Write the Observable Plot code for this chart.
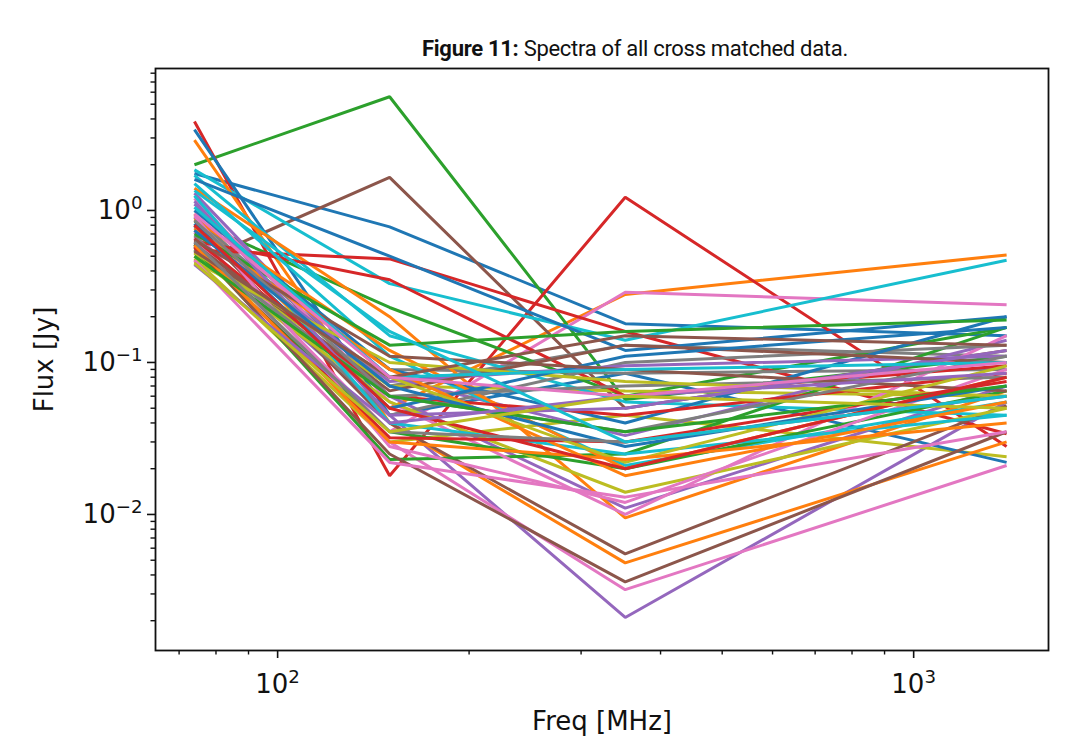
<!DOCTYPE html>
<html><head><meta charset="utf-8">
<script src="https://cdn.jsdelivr.net/npm/d3@7"></script>
<script src="https://cdn.jsdelivr.net/npm/@observablehq/plot@0.6"></script>
<style>
body{margin:0;background:#fff;}
#wrap{position:relative;width:1077px;height:749px;}
#title{position:absolute;top:36px;left:635px;transform:translateX(-50%);white-space:nowrap;font-family:Roboto,Lato,sans-serif;font-size:22px;line-height:26px;letter-spacing:-0.3px;color:#111;}
#title b{font-weight:700;}
#chart{position:absolute;top:0;left:0;}
</style></head><body>
<div id="wrap"><div id="chart"></div><div id="title"><b>Figure 11:</b> Spectra of all cross matched data.</div></div>
<script>
// Frequencies (MHz) of the four surveys
const freqs = [74, 150, 352, 1400];
// Flux (Jy) of each source at each frequency (index = source)
const flux74 = [1.75,0.95,2.0,3.85,0.62,0.45,0.72,0.9,0.48,1.85,
  3.4,2.9,0.85,0.55,1.3,0.8,0.66,0.78,0.52,1.7,
  1.6,1.4,0.6,0.63,1.1,0.58,1.2,0.68,0.5,1.5,
  1.0,0.88,0.55,0.65,0.74,0.6,0.92,0.55,0.46,1.25,
  0.82,0.76,0.7,0.57,1.15,0.64,0.47,0.86,0.53,1.05,
  0.74,0.59,0.5,0.8,0.44,0.54,0.95,0.62,0.45,1.35];
const flux150 = [0.78,0.05,5.6,0.018,0.045,1.65,0.035,0.07,0.03,0.33,
  0.045,0.04,0.23,0.48,0.06,0.04,0.03,0.09,0.07,0.15,
  0.5,0.2,0.023,0.35,0.08,0.025,0.055,0.045,0.055,0.11,
  0.09,0.12,0.035,0.06,0.075,0.065,0.028,0.06,0.1,0.04,
  0.05,0.09,0.13,0.032,0.045,0.11,0.022,0.06,0.08,0.08,
  0.07,0.03,0.06,0.05,0.04,0.08,0.08,0.035,0.035,0.16];
const flux352 = [0.18,0.28,0.057,1.22,0.0021,0.05,0.29,0.13,0.045,0.14,
  0.085,0.0048,0.06,0.16,0.011,0.0055,0.0032,0.085,0.065,0.055,
  0.12,0.0095,0.025,0.06,0.033,0.0036,0.01,0.1,0.014,0.021,
  0.04,0.02,0.02,0.045,0.095,0.13,0.012,0.07,0.075,0.025,
  0.11,0.018,0.16,0.03,0.05,0.09,0.013,0.035,0.022,0.09,
  0.028,0.023,0.035,0.02,0.06,0.15,0.06,0.03,0.06,0.03];
const flux1400 = [0.15,0.51,0.11,0.028,0.055,0.12,0.24,0.11,0.024,0.47,
  0.022,0.03,0.17,0.034,0.07,0.052,0.021,0.09,0.06,0.045,
  0.2,0.065,0.17,0.095,0.14,0.035,0.15,0.13,0.05,0.055,
  0.2,0.08,0.065,0.085,0.11,0.1,0.09,0.08,0.06,0.045,
  0.17,0.055,0.19,0.075,0.12,0.065,0.035,0.11,0.095,0.1,
  0.07,0.04,0.07,0.08,0.085,0.13,0.1,0.06,0.05,0.06];
const fluxByFreq = [flux74, flux150, flux352, flux1400];
// matplotlib tab10 cycle
const tab10 = ["#1f77b4","#ff7f0e","#2ca02c","#d62728","#9467bd","#8c564b","#e377c2","#7f7f7f","#bcbd22","#17becf"];
const xMajor = [100, 1000];
const xMajorLabels = ["10²", "10³"];
const yMajor = [0.01, 0.1, 1];
const yMajorLabels = ["10⁻²", "10⁻¹", "10⁰"];

const rows = [];
for (let s = 0; s < flux74.length; s++) {
  freqs.forEach((f, j) => rows.push({src: s, color: tab10[s % 10], freq: f, flux: fluxByFreq[j][s]}));
}
const xDomain = [Math.pow(10, 1.808), Math.pow(10, 3.212)];
const yDomain = [Math.pow(10, -2.895), Math.pow(10, 0.934)];
const minor = (lo, hi) => {
  const out = [];
  for (let e = -4; e <= 4; e++) for (let m = 2; m <= 9; m++) {
    const v = m * Math.pow(10, e);
    if (v > lo && v < hi) out.push(v);
  }
  return out;
};
const font = "'DejaVu Sans', sans-serif";
const chart = Plot.plot({
  width: 1077, height: 749,
  marginTop: 68, marginBottom: 99, marginLeft: 155, marginRight: 29,
  style: {fontFamily: font, fontSize: "26px", color: "#111", background: "#fff"},
  x: {type: "log", domain: xDomain},
  y: {type: "log", domain: yDomain},
  color: {type: "identity"},
  marks: [
    Plot.line(rows, {x: "freq", y: "flux", z: "src", stroke: "color", strokeWidth: 3, strokeLinejoin: "miter", strokeLinecap: "butt"}),
    Plot.frame({stroke: "#111", strokeWidth: 1.8}),
    Plot.axisX(minor(xDomain[0], xDomain[1]), {tickSize: 4.5, strokeWidth: 1.4, text: null, label: null, stroke: "#111"}),
    Plot.axisX(xMajor, {tickSize: 8, strokeWidth: 1.6, tickPadding: 16, tickFormat: (d) => xMajorLabels[xMajor.indexOf(d)], label: "Freq [MHz]", labelAnchor: "center", labelOffset: 79, labelArrow: "none", stroke: "#111", fontSize: 26}),
    Plot.axisY(minor(yDomain[0], yDomain[1]), {tickSize: 4.5, strokeWidth: 1.4, text: null, label: null, stroke: "#111"}),
    Plot.axisY(yMajor, {tickSize: 8, strokeWidth: 1.6, tickPadding: 5, tickFormat: (d) => yMajorLabels[yMajor.indexOf(d)], label: "Flux [Jy]", labelAnchor: "center", labelOffset: 121, labelArrow: "none", stroke: "#111", fontSize: 26})
  ]
});
// render exponents matplotlib-style: normal digits, smaller and raised
const supMap = {"⁰":"0","¹":"1","²":"2","³":"3","⁻":"−"};
chart.querySelectorAll("text").forEach(t => {
  const m = /^10([⁰¹²³⁻]+)$/.exec(t.textContent);
  if (!m) return;
  const exp = [...m[1]].map(c => supMap[c]).join("");
  while (t.firstChild) t.removeChild(t.firstChild);
  t.appendChild(document.createTextNode("10"));
  const ts = document.createElementNS("http://www.w3.org/2000/svg", "tspan");
  ts.setAttribute("font-size", "0.7em");
  ts.setAttribute("dy", "-0.55em");
  ts.textContent = exp;
  t.appendChild(ts);
});
document.getElementById("chart").appendChild(chart);
</script>
</body></html>
